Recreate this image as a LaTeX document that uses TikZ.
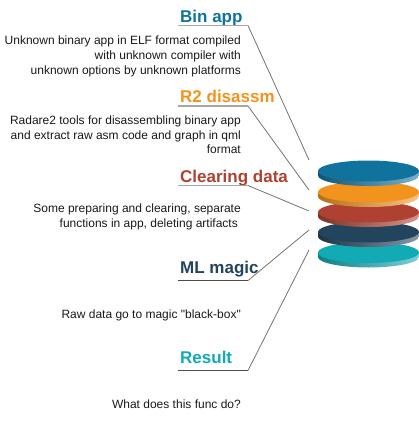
\documentclass[tikz,border=0pt]{standalone}
\usepackage{fontspec}
\setmainfont{Liberation Sans}[Ligatures=TeXOff]
\definecolor{cblue}{HTML}{10739E}
\definecolor{corange}{HTML}{F2931E}
\definecolor{cred}{HTML}{AE4132}
\definecolor{cnavy}{HTML}{23445D}
\definecolor{cteal}{HTML}{12AAB5}
\tikzset{
 head/.style={font=\fontsize{17}{20}\selectfont\bfseries,anchor=base west,inner sep=0pt},
 desc/.style={font=\fontsize{12}{14.7}\selectfont,align=right,anchor=north east,inner sep=0pt,text=black!90},
 leader/.style={draw=black!55,line width=0.8pt},
 under/.style={draw=black!35,line width=1.2pt},
}
\newcommand{\platter}[2]{%
 \path[left color=#1!75!black,right color=#1!55!white]
   (318,-#2) -- (318,-#2-4.5) arc[start angle=180,end angle=360,x radius=50.5,y radius=10.5] -- (419,-#2) -- cycle;
 \fill[#1] (368.5,-#2) ellipse[x radius=50.5,y radius=10.5];
}
\begin{document}
\begin{tikzpicture}[x=1pt,y=1pt]
\useasboundingbox (0,0) rectangle (419,-434);
\platter{cteal}{252.5}
\platter{cnavy}{232}
\platter{cred}{212}
\platter{corange}{192}
\platter{cblue}{171}
\node[head,text=cblue] (h1) at (180,-22) {Bin app};
\node[head,text=corange] (h2) at (180,-102) {R2 disassm};
\node[head,text=cred] (h3) at (180,-182) {Clearing data};
\node[head,text=cnavy] (h4) at (180,-273) {ML magic};
\node[head,text=cteal] (h5) at (180,-363) {Result};
\node[desc] (d1) at (241,-36) {Unknown binary app in ELF format compiled\\with unknown compiler with\\unknown options by unknown platforms};
\node[desc] (d2) at (241,-115.5) {Radare2 tools for disassembling binary app\\and extract raw asm code and graph in qml\\format};
\node[desc] (d3) at (241,-204) {Some preparing and clearing, separate\\functions in app, deleting artifacts\hspace*{3pt}};
\node[desc] (d4) at (241,-310) {Raw data go to magic "black-box"};
\node[desc] (d5) at (241,-400) {What does this func do?};
\foreach \n/\y/\ty in {1/25.5/160,2/106/190,3/185.5/211,4/280.5/230,5/370.5/250}{
  \coordinate (a\n) at (178,-\y);
  \coordinate (b\n) at (248,-\y);
  \coordinate (t\n) at (309,-\ty);
  \draw[leader] (b\n) -- (t\n);
}
\draw[under] (a1) -- (b1);
\draw[under] (a2) -- (b2);
\draw[under] (a3) -- (b3);
\draw[leader,draw=black!70] (a4) -- (b4);
\draw[leader,draw=black!70] (a5) -- (b5);
\end{tikzpicture}
\end{document}
